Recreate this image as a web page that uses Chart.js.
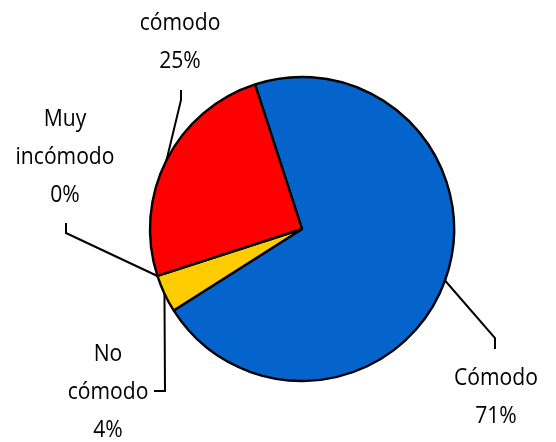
<!DOCTYPE html>
<html>
<head>
<meta charset="utf-8">
<script src="https://cdn.jsdelivr.net/npm/chart.js@4/dist/chart.umd.min.js"></script>
<style>
html,body{margin:0;padding:0;background:#fff;}
#wrap{width:556px;height:442px;position:relative;}
</style>
</head>
<body>
<div id="wrap"><canvas id="c" width="556" height="442"></canvas></div>
<script>
const categories = ["Cómodo", "No cómodo", "Muy incómodo", "Muy cómodo"];
const values = [71, 4, 0, 25];
const percentLabels = ["71%", "4%", "0%", "25%"];
const colors = ["#0563CC", "#FFCC00", "#FF0000", "#FF0000"];

// label layout (annotation positions: elbow, end of leader, text center x, first line y)
const labelLayout = [
  {elbow:[495,338], end:[495,349], tx:496, ty:378},
  {elbow:[165,391], end:[154,391], tx:108, ty:354},
  {elbow:[66,233],  end:[66,223],  tx:65,  ty:119},
  {elbow:[181,100], end:[181,90],  tx:180, ty:-15}
];
const lineGap = 38.3;
const FONT = '24px "Open Sans", "DejaVu Sans", sans-serif';
const SX = 0.88;

const leaderPlugin = {
  id: 'leaders',
  afterDatasetsDraw(chart) {
    const ctx = chart.ctx;
    const meta = chart.getDatasetMeta(0);
    ctx.save();
    ctx.strokeStyle = '#000';
    ctx.lineWidth = 2;
    ctx.lineJoin = 'miter';
    ctx.fillStyle = '#000';
    ctx.font = FONT;
    ctx.textAlign = 'center';
    ctx.textBaseline = 'middle';
    meta.data.forEach((arc, i) => {
      const p = arc.getProps(['x','y','startAngle','endAngle','outerRadius'], true);
      const mid = (p.startAngle + p.endAngle) / 2;
      const ax = p.x + Math.cos(mid) * p.outerRadius;
      const ay = p.y + Math.sin(mid) * p.outerRadius;
      const L = labelLayout[i];
      ctx.beginPath();
      ctx.moveTo(ax, ay);
      ctx.lineTo(L.elbow[0], L.elbow[1]);
      ctx.lineTo(L.end[0], L.end[1]);
      ctx.stroke();
      const words = categories[i].split(' ');
      const lines = words.concat([percentLabels[i]]);
      lines.forEach((t, k) => {
        ctx.save();
        ctx.translate(L.tx, L.ty + k * lineGap);
        ctx.scale(SX, 1);
        ctx.fillText(t, 0, 0);
        ctx.restore();
      });
    });
    ctx.restore();
  }
};

new Chart(document.getElementById('c'), {
  type: 'pie',
  data: {
    labels: categories,
    datasets: [{
      data: values,
      backgroundColor: colors,
      borderColor: '#000',
      borderWidth: 2.4,
      radius: 152
    }]
  },
  options: {
    responsive: false,
    animation: false,
    rotation: -18,
    layout: {padding: {left: 48, right: 0, top: 16, bottom: 0}},
    plugins: {legend: {display: false}, tooltip: {enabled: false}}
  },
  plugins: [leaderPlugin]
});
</script>
</body>
</html>
